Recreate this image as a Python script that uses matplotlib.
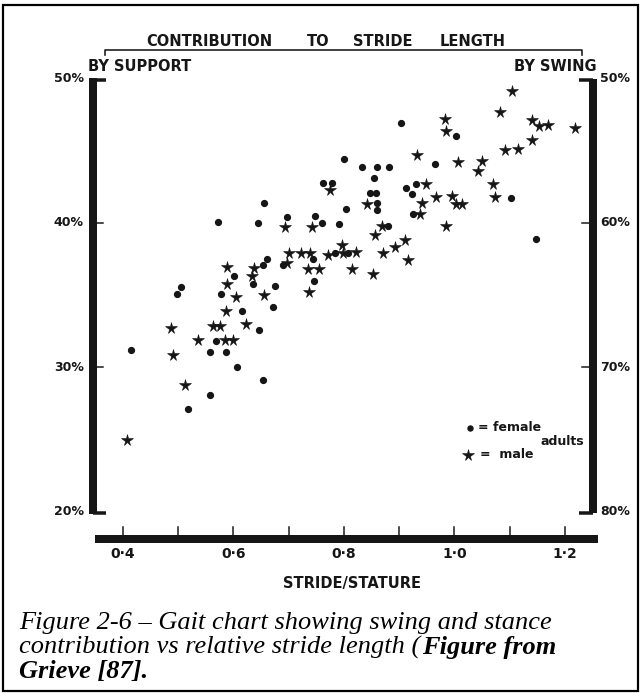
import matplotlib
matplotlib.use('Agg')
import matplotlib.pyplot as plt
from matplotlib.patches import Rectangle

W, H = 642, 693

# stride/stature vs. % of stride length contributed by the support phase
female_x = [0.656, 0.572, 0.645, 0.696, 0.689, 0.660, 0.653, 0.601, 0.635, 0.676,
            0.505, 0.498, 0.577, 0.672, 0.616, 0.646, 0.568, 0.745, 0.414, 0.557,
            0.586, 0.606, 0.653, 0.557, 0.517, 0.762, 0.779, 0.748, 0.761, 0.791,
            0.744, 0.904, 1.002, 0.964, 0.800, 0.833, 0.860, 0.881, 0.855, 0.847,
            0.858, 0.860, 0.860, 0.912, 0.930, 0.924, 0.925, 0.803, 0.880, 1.103,
            1.148, 0.783, 0.807]
female_y = [41.4, 40.1, 40.0, 40.4, 37.1, 37.5, 37.1, 36.3, 35.8, 35.65,
            35.6, 35.1, 35.1, 34.2, 33.9, 32.6, 31.85, 36.0, 31.2, 31.1,
            31.1, 30.0, 29.1, 28.1, 27.1, 42.8, 42.8, 40.5, 40.0, 39.9,
            37.5, 46.9, 46.0, 44.1, 44.4, 43.9, 43.9, 43.9, 43.1, 42.1,
            42.1, 41.4, 40.9, 42.4, 42.7, 42.0, 40.65, 41.0, 39.8, 41.7,
            38.9, 37.9, 37.9]

male_x = [0.694, 0.700, 0.696, 0.589, 0.637, 0.634, 0.588, 0.604, 0.655, 0.586,
          0.622, 0.486, 0.563, 0.576, 0.535, 0.584, 0.599, 0.737, 0.490, 0.512,
          0.407, 0.775, 0.742, 0.723, 0.738, 0.735, 0.754, 0.982, 0.985, 0.933,
          1.006, 1.049, 1.042, 0.842, 0.948, 0.941, 0.966, 0.996, 1.002, 1.014,
          0.937, 0.985, 0.869, 0.856, 0.910, 0.892, 0.871, 0.915, 0.815, 0.852,
          0.796, 0.771, 0.798, 0.821, 1.105, 1.083, 1.141, 1.153, 1.170, 1.219,
          1.092, 1.115, 1.141, 1.069, 1.074]
male_y = [39.75, 37.95, 37.25, 36.95, 36.9, 36.3, 35.8, 34.9, 35.0, 33.9,
          33.0, 32.7, 32.9, 32.9, 31.9, 31.9, 31.9, 35.2, 30.85, 28.8,
          25.0, 42.3, 39.7, 37.9, 37.9, 36.8, 36.8, 47.2, 46.35, 44.7,
          44.2, 44.3, 43.6, 41.3, 42.7, 41.4, 41.8, 41.85, 41.3, 41.3,
          40.65, 39.8, 39.8, 39.2, 38.8, 38.35, 37.9, 37.45, 36.8, 36.5,
          38.5, 37.8, 37.9, 38.0, 49.1, 47.7, 47.1, 46.7, 46.8, 46.6,
          45.05, 45.1, 45.75, 42.7, 41.8]

x_ticks = [0.4, 0.5, 0.6, 0.7, 0.8, 0.9, 1.0, 1.1, 1.2]
x_labels = ['0·4', '0·6', '0·8', '1·0', '1·2']
support_pct = [50, 40, 30, 20]
swing_pct = [50, 60, 70, 80]
heading = ['CONTRIBUTION', 'TO', 'STRIDE', 'LENGTH']
heading_x = [0.556, 0.754, 0.870, 1.032]

ink = '#161616'
lettering = dict(family='DejaVu Sans', weight='bold', color=ink)


def px(n):
    # pixels -> points at 100 dpi
    return n * 0.72


fig = plt.figure(figsize=(W / 100, H / 100), dpi=100)
ax = fig.add_axes([0, 0, 1, 1])
ax.set_xlim(0.1774, 1.3394)
ax.set_ylim(7.474, 55.43)
ax.axis('off')

# outer frame
fig.patches.append(Rectangle((3 / W, 2 / H), 635 / W, 686 / H, transform=fig.transFigure,
                             fill=False, lw=px(2.2), ec='black'))

# heavy left (support) and right (swing) scale bars
xl, xr = 0.346, 1.25
ax.plot([xl, xl], [19.85, 50.0], color=ink, lw=px(8), solid_capstyle='butt')
ax.plot([xr, xr], [19.9, 49.95], color=ink, lw=px(8), solid_capstyle='butt')
for y in (49.9, 19.95):
    ax.plot([xl, xl + 0.024], [y, y], color=ink, lw=px(3.5), solid_capstyle='butt')
    ax.plot([xr - 0.024, xr], [y, y], color=ink, lw=px(3.5), solid_capstyle='butt')
for v in support_pct[1:-1]:
    ax.plot([xl, xl + 0.018], [v, v], color=ink, lw=px(1.5))
    ax.plot([xr - 0.02, xr], [v, v], color=ink, lw=px(1.5))

for v in support_pct:
    ax.text(xl - 0.017, v, '%d%%' % v, ha='right', va='center', fontsize=9, **lettering)
for v, s in zip(support_pct, swing_pct):
    ax.text(xr + 0.013, v, '%d%%' % s, ha='left', va='center', fontsize=9, **lettering)

# stride/stature bar along the bottom
yb = 18.13
ax.plot([0.349, 1.26], [yb, yb], color=ink, lw=px(8), solid_capstyle='butt')
for t in x_ticks:
    ax.plot([t, t], [yb, yb + 0.8], color=ink, lw=px(1.5))
for t, lab in zip(x_ticks[::2], x_labels):
    ax.text(t, 17.1, lab, ha='center', va='center', fontsize=10, **lettering)
ax.text(0.8145, 15.05, 'STRIDE/STATURE', ha='center', va='center', fontsize=10.5, **lettering)

# heading with its bracket
ax.plot([0.367, 0.367, 1.231, 1.231], [51.6, 51.97, 51.97, 51.6], color=ink, lw=px(1.6))
for word, wx in zip(heading, heading_x):
    ax.text(wx, 52.55, word, ha='center', va='center', fontsize=10.5, **lettering)
ax.text(0.337, 50.85, 'BY SUPPORT', ha='left', va='center', fontsize=10.5, **lettering)
ax.text(1.258, 50.85, 'BY SWING', ha='right', va='center', fontsize=10.5, **lettering)

# data
ax.plot(female_x, female_y, 'o', ms=4.2, color=ink, mec=ink)
ax.plot(male_x, male_y, '*', ms=8.5, color=ink, mec=ink, mew=0.4)

# key
ax.plot([1.028], [25.8], 'o', ms=3.6, color=ink)
ax.plot([1.024], [23.95], '*', ms=8.5, color=ink, mec=ink, mew=0.4)
ax.text(1.042, 25.85, '= female', ha='left', va='center', fontsize=9, **lettering)
ax.text(1.046, 23.95, '=  male', ha='left', va='center', fontsize=9, **lettering)
ax.text(1.156, 24.85, 'adults', ha='left', va='center', fontsize=9, **lettering)

# caption, mixed italic / bold italic
cap = dict(family='Liberation Serif', style='italic', fontsize=19, color='black')
x0 = 19 / W
fig.text(x0, (H - 629) / H, 'Figure 2-6 \u2013 Gait chart showing swing and stance', **cap)
t2 = fig.text(x0, (H - 654) / H, 'contribution vs relative stride length (', **cap)
fig.canvas.draw()
bb = t2.get_window_extent()
fig.text(bb.x1 / W + 2 / W, (H - 654) / H, 'Figure from', weight='bold', **cap)
fig.text(x0, (H - 678) / H, 'Grieve [87].', weight='bold', **cap)

fig.savefig('out.png', dpi=100)
